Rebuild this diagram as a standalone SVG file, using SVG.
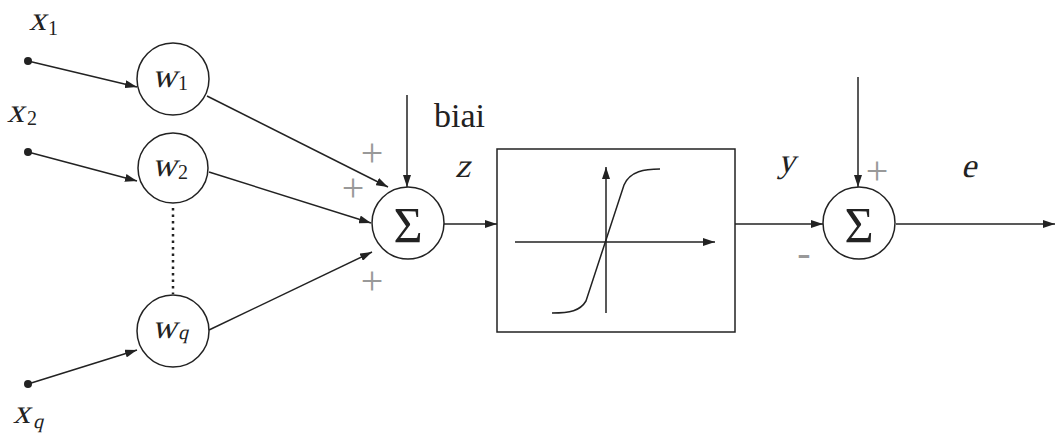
<svg xmlns="http://www.w3.org/2000/svg" width="1055" height="436" viewBox="0 0 1055 436">
<style>
.ln{stroke:#222;stroke-width:1.5;fill:none}
.ar{marker-end:url(#ah)}
.c{fill:#fff;stroke:#222;stroke-width:1.5}
.it{font-family:"Liberation Serif",serif;font-size:34px;fill:#222}
.sb{font-family:"Liberation Serif",serif;font-size:20px;fill:#222}
.rm{font-family:"Liberation Serif",serif;font-size:34px;fill:#222}
.sg{font-family:"Liberation Serif",serif;font-size:50px;fill:#222;text-anchor:middle}
.pl{font-family:"Liberation Serif",serif;font-size:40px;fill:#999;text-anchor:middle}
</style>
<defs>
<marker id="ah" markerUnits="userSpaceOnUse" markerWidth="12" markerHeight="8" refX="12" refY="4" orient="auto">
<path d="M0,0 L12,4 L0,8 Z" fill="#222"/>
</marker>
</defs>
<rect width="1055" height="436" fill="#fff"/>
<g id="connectors">
<line class="ln ar" x1="28" y1="61" x2="137" y2="87"/>
<line class="ln ar" x1="28" y1="152" x2="137" y2="181"/>
<line class="ln ar" x1="28" y1="384" x2="137" y2="350"/>
<line x1="173" y1="208" x2="173" y2="294" stroke="#222" stroke-width="2.5" stroke-dasharray="2.5,4"/>
<line class="ln ar" x1="207" y1="96" x2="388" y2="187"/>
<line class="ln ar" x1="209" y1="172" x2="371" y2="223"/>
<line class="ln ar" x1="209" y1="330" x2="372" y2="252"/>
<line class="ln ar" x1="407" y1="95" x2="407" y2="187"/>
<line class="ln ar" x1="444" y1="224" x2="497" y2="224"/>
<line class="ln ar" x1="735" y1="224" x2="823" y2="224"/>
<line class="ln ar" x1="858" y1="77" x2="858" y2="187"/>
<line class="ln ar" x1="896" y1="224" x2="1055" y2="224"/>
</g>
<g id="x1"><circle cx="28" cy="61" r="4" fill="#222"/><text class="it" transform="translate(29,30) skewX(-14)">x</text><text class="sb" x="48" y="35">1</text></g>
<g id="x2"><circle cx="28" cy="152" r="4" fill="#222"/><text class="it" transform="translate(7,122) skewX(-14)">x</text><text class="sb" x="27" y="125">2</text></g>
<g id="xq"><circle cx="28" cy="384" r="4" fill="#222"/><text class="it" transform="translate(13,423) skewX(-14)">x</text><text class="sb" transform="translate(33,428) skewX(-14)">q</text></g>
<g id="w1"><circle class="c" cx="173" cy="79" r="36"/><text class="it" transform="translate(152,87) skewX(-14)">w</text><text class="sb" x="178" y="90">1</text></g>
<g id="w2"><circle class="c" cx="173" cy="168" r="35"/><text class="it" transform="translate(152,176) skewX(-14)">w</text><text class="sb" x="178" y="179">2</text></g>
<g id="wq"><circle class="c" cx="173" cy="331" r="36"/><text class="it" transform="translate(152,338) skewX(-14)">w</text><text class="sb" transform="translate(178,339) skewX(-14)">q</text></g>
<g id="sum1">
<circle class="c" cx="408" cy="223" r="36"/>
<text class="sg" x="408" y="242">Σ</text>
<text class="pl" x="372" y="166">+</text>
<text class="pl" x="353" y="201">+</text>
<text class="pl" x="372" y="294">+</text>
</g>
<g id="bias"><text class="rm" x="434" y="127">biai</text></g>
<g id="z"><text class="it" transform="translate(455,177) skewX(-14)">z</text></g>
<g id="activation">
<rect x="497" y="149" width="238" height="183" fill="#fff" stroke="#222" stroke-width="1.5"/>
<line class="ln ar" x1="515" y1="242" x2="715" y2="242"/>
<line class="ln ar" x1="606" y1="313" x2="606" y2="167"/>
<path class="ln" d="M552,313 C570,313 580,311 586,301 L624,185 C630,171 645,169 660,169" stroke="#444"/>
</g>
<g id="y"><text class="it" transform="translate(778,172) skewX(-14)">y</text></g>
<g id="sum2">
<circle class="c" cx="859" cy="223" r="36"/>
<text class="sg" x="859" y="242">Σ</text>
<text class="pl" x="877" y="184">+</text>
<text class="pl" x="804" y="266" font-size="22">-</text>
</g>
<g id="e"><text class="it" transform="translate(961,177) skewX(-14)">e</text></g>
</svg>
